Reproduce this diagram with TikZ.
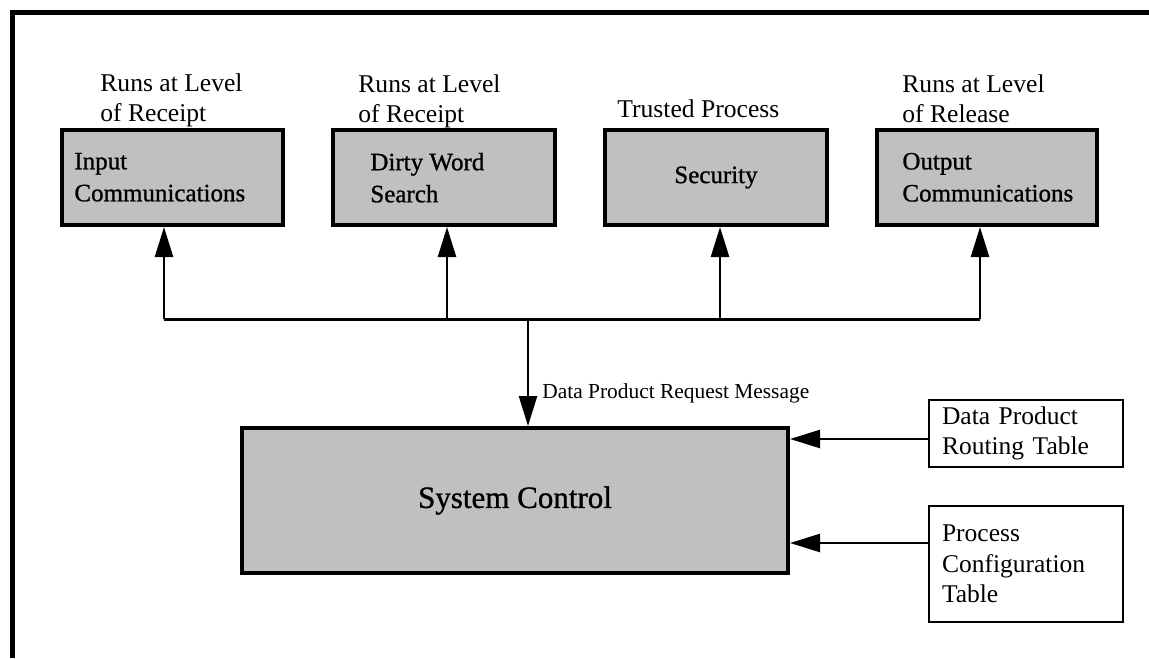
\documentclass[tikz,border=0pt]{standalone}
\usepackage{fontspec}
\setmainfont{Liberation Serif}
\newfontfamily\boxfont{Liberation Serif}[FakeBold=1]
\usetikzlibrary{arrows.meta}
\definecolor{boxgray}{HTML}{C0C0C0}
\begin{document}
\begin{tikzpicture}[x=0.5pt,y=-0.5pt,
  proc/.style={draw=black, line width=2pt, fill=boxgray, inner sep=0pt,
    minimum height=47.5pt},
  ptext/.style={inner sep=0pt, anchor=north west, align=left,
    font=\boxfont\fontsize{12.5}{16}\selectfont},
  lbl/.style={inner sep=0pt, anchor=north west, align=left,
    font=\fontsize{12.8}{15}\selectfont},
  tbl/.style={draw=black, line width=1.3pt, fill=white, inner ysep=0pt,
    inner xsep=6.5pt, text width=84pt, align=left,
    font=\fontsize{12.75}{15.2}\selectfont},
  conn/.style={line width=1.2pt, -{Triangle[length=15pt,width=9pt]}},
  bus/.style={line width=1.5pt}
]
\useasboundingbox (0,0) rectangle (1149,658);
% frame
\draw[line width=2.5pt] (12,658) -- (12,12.5) -- (1149,12.5);

% top process boxes
\node[proc, minimum width=110.5pt] (in1) at (172.5,177.5) {};
\node[proc, minimum width=111pt]   (dws) at (444,177.5) {};
\node[proc, minimum width=111pt, font=\boxfont\fontsize{12.5}{16}\selectfont] (sec) at (716,177.5) {Security};
\node[proc, minimum width=110pt]   (out) at (987,177.5) {};

\node[ptext] (in1t) at (74,152.5) {Input\\Communications};
\node[ptext] (dwst) at (370,152.5) {Dirty Word\\Search};
\node[ptext] (outt) at (902,152.5) {Output\\Communications};

% labels above
\node[lbl] (l1) at (100,73.5) {Runs at Level\\of Receipt};
\node[lbl] (l2) at (358,74) {Runs at Level\\of Receipt};
\node[lbl, anchor=base west] (l3) at (617,118) {Trusted Process};
\node[lbl] (l4) at (902,74) {Runs at Level\\of Release};

% system control
\node[draw=black, line width=2pt, fill=boxgray, minimum width=273pt,
  minimum height=72.5pt, inner sep=0pt,
  font=\boxfont\fontsize{15.5}{18}\selectfont] (sys) at (515,500.5) {System Control};

% tables
\node[tbl, minimum height=33.5pt] (dpr) at (1026,433.5) {Data Product\\Routing Table};
\node[tbl, minimum height=58pt] (pct) at (1026,564) {Process\\Configuration\\Table};

% bus
\coordinate (b1) at (164,319);
\coordinate (b2) at (447,319);
\coordinate (b3) at (720,319);
\coordinate (b4) at (980,319);
\coordinate (bc) at (528,319);
\draw[bus] (b1) -- (b4);
\draw[conn] (b1) -- (b1 |- in1.south);
\draw[conn] (b2) -- (b2 |- dws.south);
\draw[conn] (b3) -- (b3 |- sec.south);
\draw[conn] (b4) -- (b4 |- out.south);
\draw[conn] (bc) -- (bc |- sys.north);
\node[inner sep=0pt, anchor=base west, font=\fontsize{10.7}{12}\selectfont] (msg) at (542,398) {Data Product Request Message};

% table arrows
\coordinate (r1) at (900,439);
\coordinate (r2) at (900,543);
\draw[conn] (dpr.west |- r1) -- (sys.east |- r1);
\draw[conn] (pct.west |- r2) -- (sys.east |- r2);
\end{tikzpicture}
\end{document}
